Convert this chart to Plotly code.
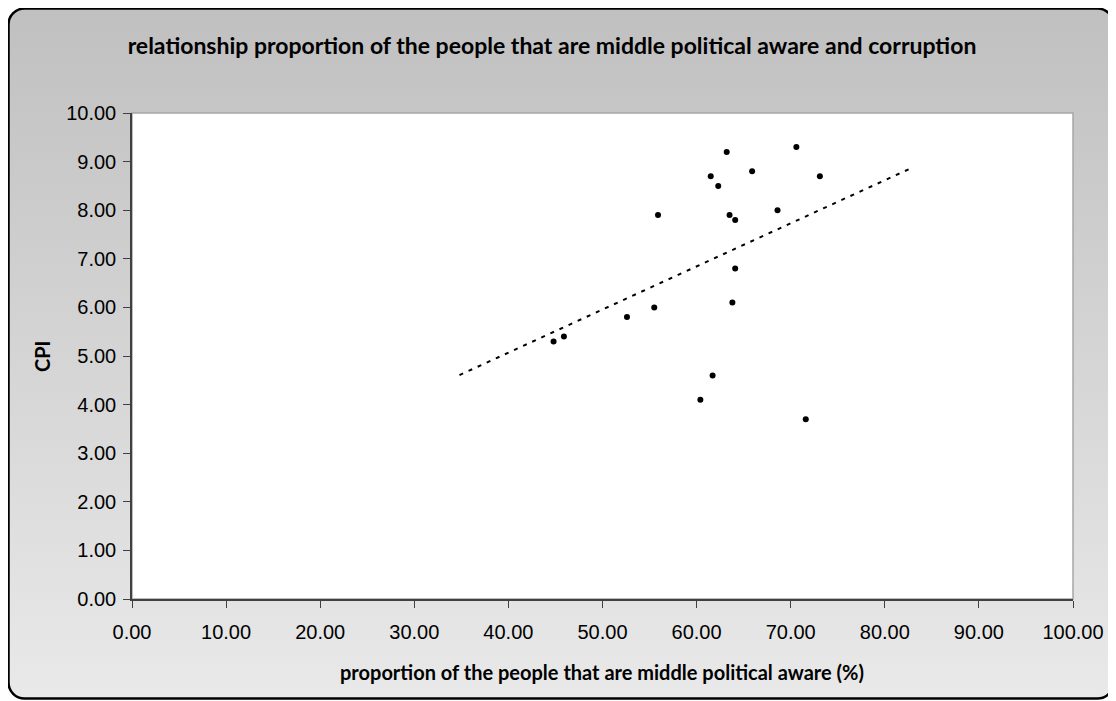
import numpy as np
import plotly.graph_objects as go
import urllib.parse

# Data
aware_pct = [63.2, 70.6, 61.5, 65.9, 73.1, 62.3, 55.9, 63.5, 64.1, 68.6,
             64.1, 63.8, 55.5, 52.6, 45.9, 44.8, 61.7, 60.4, 71.6]
cpi = [9.2, 9.3, 8.7, 8.8, 8.7, 8.5, 7.9, 7.9, 7.8, 8.0,
       6.8, 6.1, 6.0, 5.8, 5.4, 5.3, 4.6, 4.1, 3.7]
trend_x_range = [34.8, 82.7]
x_ticks = [0, 10, 20, 30, 40, 50, 60, 70, 80, 90, 100]
y_ticks = [0, 1, 2, 3, 4, 5, 6, 7, 8, 9, 10]

title_text = "relationship proportion of the people that are middle political aware and corruption"
x_title = "proportion of the people that are middle political aware (%)"
y_title = "CPI"

# Linear trendline
slope, intercept = np.polyfit(aware_pct, cpi, 1)
tx = np.array(trend_x_range)
ty = slope * tx + intercept

# page has an 8px body margin; figure sized to fit the window
W, H = 1108, 693
L, T, R, B = 124, 105, 43, 102
PW, PH = W - L - R, H - T - B

svg = f'''<svg xmlns="http://www.w3.org/2000/svg" width="{W}" height="{H}" viewBox="0 0 {W} {H}">
<defs><linearGradient id="g" x1="0" y1="0" x2="0" y2="1">
<stop offset="0" stop-color="#c0c0c0"/><stop offset="1" stop-color="#e9e9e9"/></linearGradient></defs>
<rect x="0.5" y="0.5" width="{W-3}" height="{H-3}" rx="16" ry="16" fill="url(#g)" stroke="#000" stroke-width="2.5"/>
</svg>'''
svg_uri = "data:image/svg+xml;charset=utf-8," + urllib.parse.quote(svg)

fig = go.Figure()
fig.add_trace(go.Scatter(x=aware_pct, y=cpi, mode="markers",
                         marker=dict(color="black", size=6), showlegend=False))
fig.add_trace(go.Scatter(x=tx, y=ty, mode="lines",
                         line=dict(color="black", width=2, dash="4px,6px"), showlegend=False))

tick_font = dict(family="Liberation Sans", size=20, color="#000")
label_font = dict(family="Lato", size=20, color="#000")
fig.update_layout(
    width=W, height=H,
    margin=dict(l=L, r=R, t=T, b=B),
    paper_bgcolor="white",
    plot_bgcolor="white",
    title=dict(text=f"<b>{title_text}</b>", x=544 / W, xanchor="center",
               y=1 - 38 / H, yanchor="middle",
               font=dict(family="Lato", size=23, color="#000")),
    images=[dict(source=svg_uri, xref="paper", yref="paper",
                 x=-L / PW, y=1 + T / PH, sizex=W / PW, sizey=H / PH,
                 xanchor="left", yanchor="top", sizing="stretch", layer="below")],
    shapes=[dict(type="rect", xref="x domain", yref="y domain", x0=0, x1=1, y0=0, y1=1,
                 fillcolor="white", line=dict(color="#a6a6a6", width=1.5), layer="below")],
    annotations=[
        dict(text=f"<b>{x_title}</b>", xref="paper", yref="paper", x=(594 - L) / PW, y=-73 / PH,
             showarrow=False, xanchor="center", yanchor="middle", font=label_font),
        dict(text=f"<b>{y_title}</b>", xref="paper", yref="paper", x=(34 - L) / PW, y=0.5,
             textangle=-90, showarrow=False, xanchor="center", yanchor="middle", font=label_font),
    ],
)
fig.update_xaxes(range=[0, 100], tickvals=x_ticks, ticktext=[f"{v:.2f}" for v in x_ticks],
                 showgrid=False, zeroline=False, showline=True, linecolor="#404040", linewidth=1.5,
                 ticks="outside", ticklen=7, tickcolor="#404040", tickfont=tick_font,
                 ticklabelstandoff=7)
fig.update_yaxes(range=[0, 10], tickvals=y_ticks, ticktext=[f"{v:.2f}" for v in y_ticks],
                 showgrid=False, zeroline=False, showline=True, linecolor="#404040", linewidth=1.5,
                 ticks="outside", ticklen=7, tickcolor="#404040", tickfont=tick_font,
                 ticklabelstandoff=3)

fig.write_html("out.html")
